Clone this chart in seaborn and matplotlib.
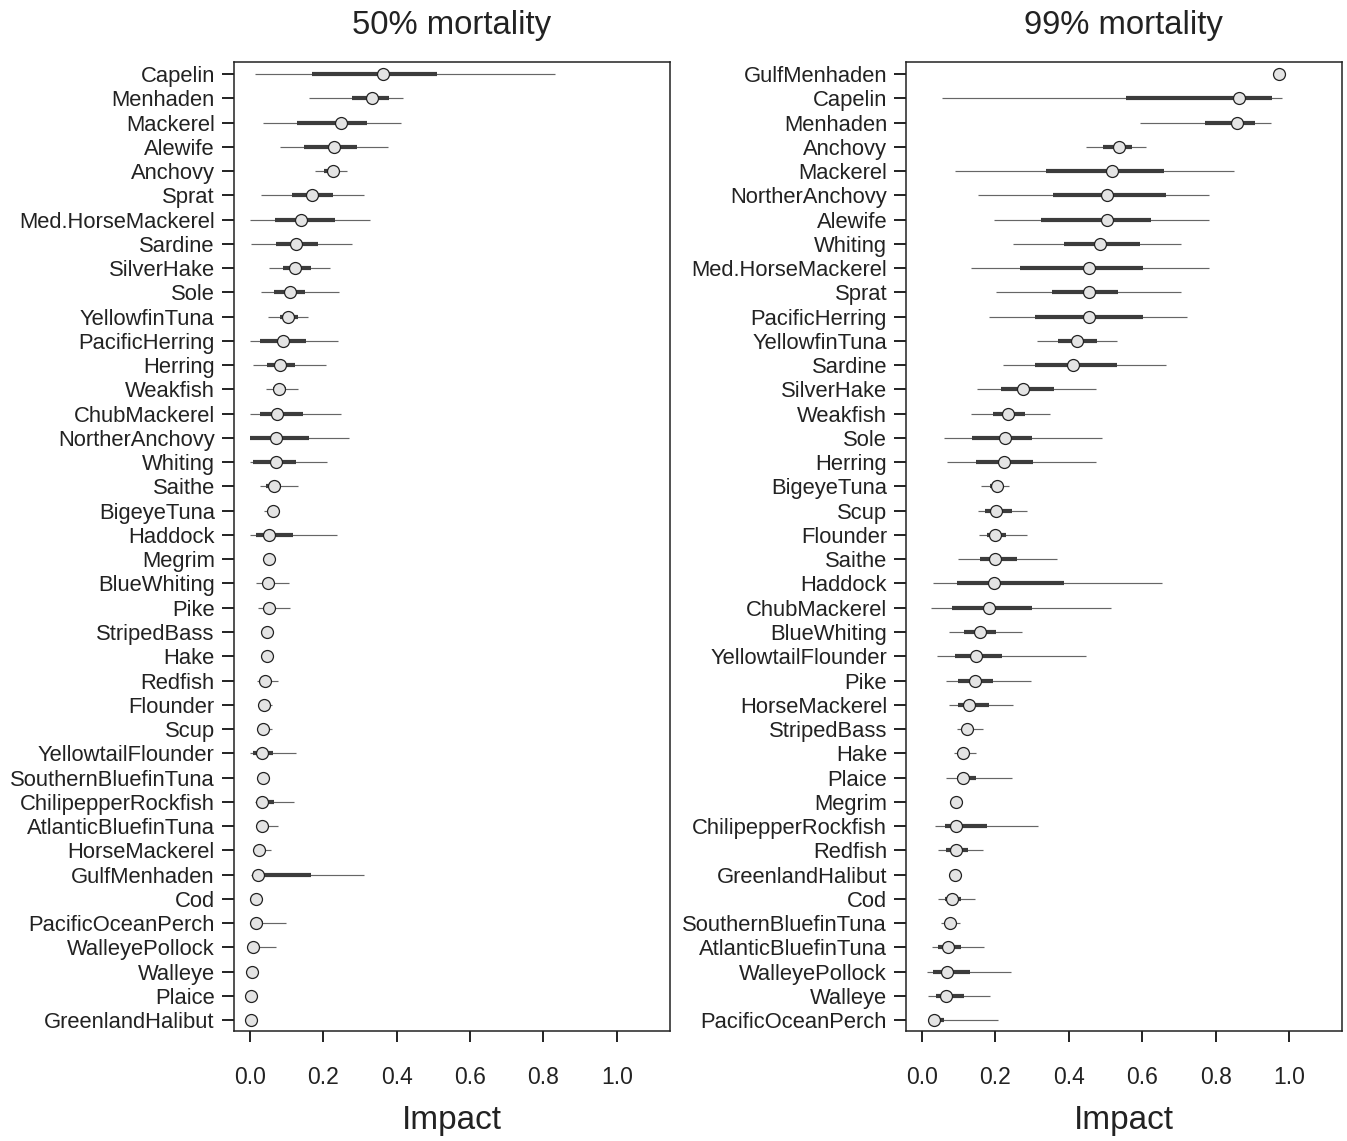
import numpy as np
import pandas as pd
import seaborn as sns
import matplotlib.pyplot as plt

# 50% mortality panel (sorted by median impact)
species_50 = [
    "Capelin", "Menhaden", "Mackerel", "Alewife", "Anchovy", "Sprat",
    "Med.HorseMackerel", "Sardine", "SilverHake", "Sole", "YellowfinTuna",
    "PacificHerring", "Herring", "Weakfish", "ChubMackerel", "NortherAnchovy",
    "Whiting", "Saithe", "BigeyeTuna", "Haddock", "Megrim", "BlueWhiting",
    "Pike", "StripedBass", "Hake", "Redfish", "Flounder", "Scup",
    "YellowtailFlounder", "SouthernBluefinTuna", "ChilipepperRockfish",
    "AtlanticBluefinTuna", "HorseMackerel", "GulfMenhaden", "Cod",
    "PacificOceanPerch", "WalleyePollock", "Walleye", "Plaice", "GreenlandHalibut",
]
med_50 = [0.363, 0.334, 0.247, 0.230, 0.226, 0.170, 0.140, 0.126, 0.123, 0.109,
          0.103, 0.090, 0.083, 0.080, 0.074, 0.072, 0.070, 0.065, 0.062, 0.052,
          0.052, 0.050, 0.051, 0.047, 0.046, 0.040, 0.038, 0.036, 0.034, 0.035,
          0.033, 0.032, 0.026, 0.022, 0.016, 0.016, 0.009, 0.005, 0.003, 0.003]
lo_50 = [0.014, 0.162, 0.037, 0.082, 0.177, 0.031, 0.001, 0.003, 0.052, 0.030,
         0.050, 0.000, 0.009, 0.043, 0.000, 0.000, 0.001, 0.027, 0.039, 0.000,
         0.045, 0.016, 0.023, 0.042, 0.040, 0.020, 0.023, 0.020, 0.000, 0.030,
         0.014, 0.018, 0.015, 0.002, 0.012, 0.010, 0.000, 0.002, 0.001, 0.001]
hi_50 = [0.831, 0.417, 0.412, 0.376, 0.266, 0.311, 0.327, 0.278, 0.218, 0.242,
         0.159, 0.239, 0.207, 0.132, 0.248, 0.270, 0.211, 0.130, 0.079, 0.237,
         0.060, 0.106, 0.110, 0.052, 0.051, 0.078, 0.059, 0.059, 0.126, 0.040,
         0.119, 0.076, 0.057, 0.311, 0.020, 0.098, 0.070, 0.008, 0.006, 0.005]
q1_50 = [0.168, 0.278, 0.129, 0.148, 0.202, 0.116, 0.068, 0.071, 0.091, 0.067,
         0.082, 0.029, 0.048, 0.064, 0.027, 0.000, 0.009, 0.045, 0.055, 0.016,
         0.050, 0.035, 0.040, 0.045, 0.044, 0.032, 0.032, 0.030, 0.009, 0.033,
         0.020, 0.026, 0.020, 0.009, 0.014, 0.013, 0.004, 0.004, 0.002, 0.002]
q3_50 = [0.511, 0.378, 0.320, 0.291, 0.241, 0.226, 0.232, 0.185, 0.166, 0.149,
         0.132, 0.153, 0.123, 0.098, 0.144, 0.162, 0.126, 0.085, 0.068, 0.117,
         0.055, 0.065, 0.068, 0.049, 0.048, 0.050, 0.045, 0.042, 0.062, 0.037,
         0.065, 0.042, 0.035, 0.166, 0.018, 0.035, 0.025, 0.006, 0.004, 0.004]

# 99% mortality panel (sorted by median impact)
species_99 = [
    "GulfMenhaden", "Capelin", "Menhaden", "Anchovy", "Mackerel",
    "NortherAnchovy", "Alewife", "Whiting", "Med.HorseMackerel", "Sprat",
    "PacificHerring", "YellowfinTuna", "Sardine", "SilverHake", "Weakfish",
    "Sole", "Herring", "BigeyeTuna", "Scup", "Flounder", "Saithe", "Haddock",
    "ChubMackerel", "BlueWhiting", "YellowtailFlounder", "Pike",
    "HorseMackerel", "StripedBass", "Hake", "Plaice", "Megrim",
    "ChilipepperRockfish", "Redfish", "GreenlandHalibut", "Cod",
    "SouthernBluefinTuna", "AtlanticBluefinTuna", "WalleyePollock", "Walleye",
    "PacificOceanPerch",
]
med_99 = [0.974, 0.864, 0.858, 0.537, 0.517, 0.505, 0.503, 0.486, 0.456, 0.455,
          0.455, 0.423, 0.412, 0.276, 0.234, 0.225, 0.222, 0.203, 0.201, 0.199,
          0.199, 0.196, 0.182, 0.159, 0.146, 0.144, 0.129, 0.123, 0.112, 0.111,
          0.093, 0.092, 0.091, 0.089, 0.081, 0.076, 0.070, 0.068, 0.065, 0.033]
lo_99 = [0.965, 0.053, 0.595, 0.446, 0.090, 0.152, 0.196, 0.248, 0.134, 0.201,
         0.183, 0.312, 0.221, 0.149, 0.133, 0.059, 0.067, 0.160, 0.151, 0.155,
         0.098, 0.030, 0.023, 0.072, 0.040, 0.065, 0.073, 0.094, 0.086, 0.066,
         0.085, 0.035, 0.042, 0.073, 0.044, 0.051, 0.027, 0.014, 0.015, 0.016]
hi_99 = [0.985, 0.982, 0.950, 0.611, 0.849, 0.783, 0.781, 0.705, 0.781, 0.707,
         0.721, 0.530, 0.666, 0.474, 0.348, 0.491, 0.473, 0.237, 0.285, 0.285,
         0.369, 0.655, 0.515, 0.271, 0.446, 0.297, 0.249, 0.165, 0.146, 0.244,
         0.101, 0.315, 0.166, 0.107, 0.144, 0.103, 0.168, 0.241, 0.185, 0.207]
q1_99 = [0.970, 0.555, 0.772, 0.494, 0.337, 0.357, 0.324, 0.386, 0.266, 0.353,
         0.307, 0.371, 0.309, 0.216, 0.194, 0.137, 0.146, 0.185, 0.171, 0.176,
         0.159, 0.095, 0.081, 0.115, 0.089, 0.098, 0.098, 0.110, 0.100, 0.095,
         0.088, 0.062, 0.065, 0.082, 0.062, 0.066, 0.044, 0.030, 0.039, 0.021]
q3_99 = [0.980, 0.953, 0.907, 0.573, 0.659, 0.666, 0.623, 0.594, 0.601, 0.533,
         0.603, 0.478, 0.530, 0.359, 0.280, 0.299, 0.301, 0.220, 0.244, 0.230,
         0.258, 0.388, 0.300, 0.201, 0.219, 0.192, 0.182, 0.135, 0.125, 0.146,
         0.098, 0.176, 0.126, 0.096, 0.107, 0.086, 0.105, 0.130, 0.115, 0.059]

panels = [
    ("50% mortality", species_50, med_50, lo_50, hi_50, q1_50, q3_50),
    ("99% mortality", species_99, med_99, lo_99, hi_99, q1_99, q3_99),
]

sns.set_style("ticks")
plt.rcParams["font.family"] = ["Liberation Sans", "DejaVu Sans"]
plt.rcParams["axes.edgecolor"] = "#222222"
plt.rcParams["axes.linewidth"] = 1.1

fig = plt.figure(figsize=(13.47, 11.41), dpi=100)
axes = [fig.add_axes([0.1735, 0.0964, 0.3237, 0.8495]),
        fig.add_axes([0.6726, 0.0964, 0.3235, 0.8495])]

for ax, (title, sp, med, lo, hi, q1, q3) in zip(axes, panels):
    df = pd.DataFrame({"species": sp, "median": med, "lo": lo, "hi": hi,
                       "q1": q1, "q3": q3})
    sns.pointplot(data=df, x="median", y="species", order=sp, ax=ax,
                  linestyle="none", marker="o", errorbar=None, color="black",
                  markerfacecolor="#e4e4e4", markeredgecolor="#222222",
                  markersize=8.6, markeredgewidth=0.9, zorder=4)
    pos = np.arange(len(sp))
    ax.hlines(pos, df["lo"], df["hi"], color="#666666", linewidth=0.85, zorder=1)
    ax.hlines(pos, df["q1"], df["q3"], color="#3c3c3c", linewidth=3.0, zorder=2)

    ax.set_xlim(-0.044, 1.144)
    ax.set_ylim(len(sp) - 1 + 0.45, -0.51)
    ax.set_xticks(np.arange(0, 1.01, 0.2))
    ax.set_xticklabels([f"{v:.1f}" for v in np.arange(0, 1.01, 0.2)])
    ax.tick_params(axis="x", length=8, width=1.4, pad=17, labelsize=16.5,
                   colors="#222222")
    ax.tick_params(axis="y", length=8.6, width=1.4, pad=5, labelsize=15.8,
                   colors="#222222")
    ax.set_ylabel("")
    ax.set_xlabel("Impact", fontsize=24, color="#222222", labelpad=12)
    ax.set_title(title, fontsize=23.7, color="#222222", pad=20)
    for s in ax.spines.values():
        s.set_visible(True)

fig.savefig("out.png", dpi=100)
